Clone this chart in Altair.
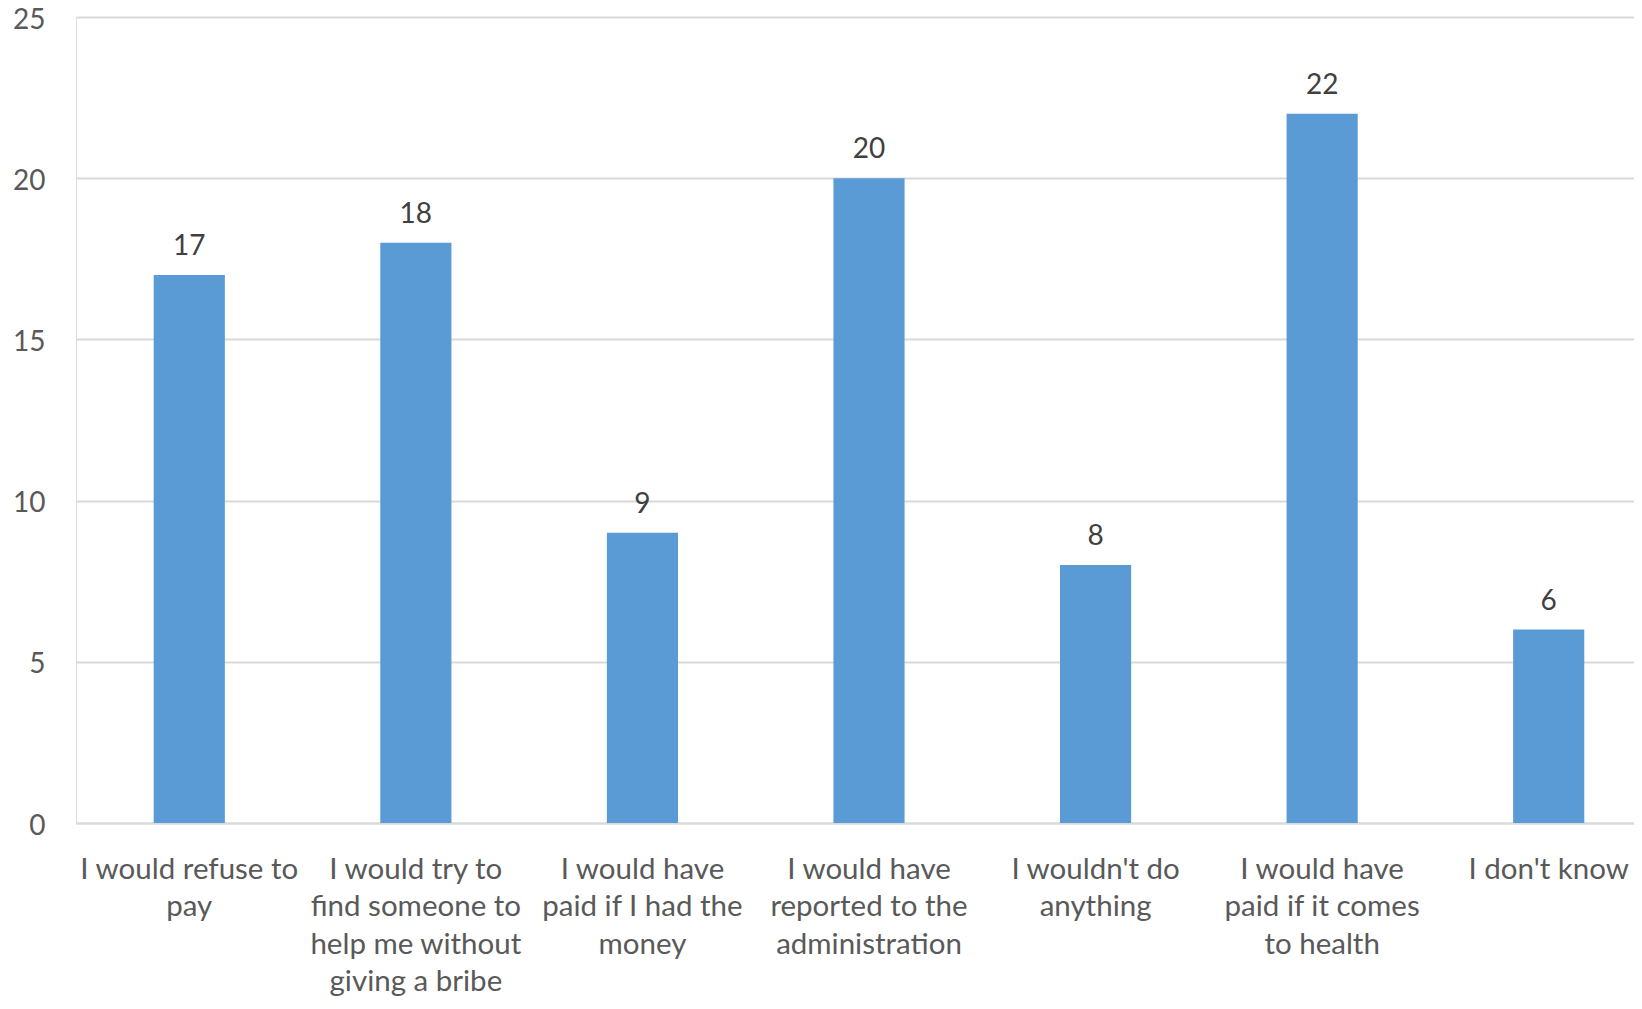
import altair as alt
import pandas as pd

categories = [
    "I would refuse to\npay",
    "I would try to\nfind someone to\nhelp me without\ngiving a bribe",
    "I would have\npaid if I had the\nmoney",
    "I would have\nreported to the\nadministration",
    "I wouldn't do\nanything",
    "I would have\npaid if it comes\nto health",
    "I don't know",
]
values = [17, 18, 9, 20, 8, 22, 6]
y_ticks = [0, 5, 10, 15, 20, 25]

df = pd.DataFrame({"category": categories, "value": values})

W, H = 1586, 806
FONT = "Lato"

x_enc = alt.X(
    "category:N",
    sort=categories,
    scale=alt.Scale(paddingInner=0.686, paddingOuter=0.343),
    axis=alt.Axis(
        title=None,
        labelAngle=0,
        labelExpr="split(datum.label, '\\n')",
        labelFont=FONT,
        labelFontSize=29.5,
        labelColor="#595959",
        labelLineHeight=37.5,
        labelPadding=32,
        labelBaseline="top",
        labelLimit=0,
        ticks=False,
        domain=True,
        domainColor="#D9D9D9",
        domainWidth=2,
    ),
)

bars = alt.Chart(df).mark_bar(color="#5B9BD5").encode(
    x=x_enc,
    y=alt.Y(
        "value:Q",
        scale=alt.Scale(domain=[0, 25], nice=False),
        axis=alt.Axis(
            title=None,
            values=y_ticks,
            labelFont=FONT,
            labelFontSize=28,
            labelColor="#595959",
            labelPadding=31,
            labelBaseline="alphabetic",
            labelOffset=11,
            ticks=False,
            domain=False,
            grid=True,
            gridColor="#D9D9D9",
            gridWidth=2,
        ),
    ),
)

labels = alt.Chart(df).mark_text(
    baseline="bottom", dy=-14, font=FONT, fontSize=28, color="#404040"
).encode(
    x=alt.X("category:N", sort=categories),
    y="value:Q",
    text="value:Q",
)

chart = (
    alt.layer(bars, labels)
    .properties(
        width=W,
        height=H,
        autosize="none",
        padding={"left": 68, "top": 9, "right": -28, "bottom": 178},
    )
    .configure_view(stroke=None)
    .configure(background="white")
)

chart.save("out.html", embed_options={"renderer": "svg", "actions": False})
